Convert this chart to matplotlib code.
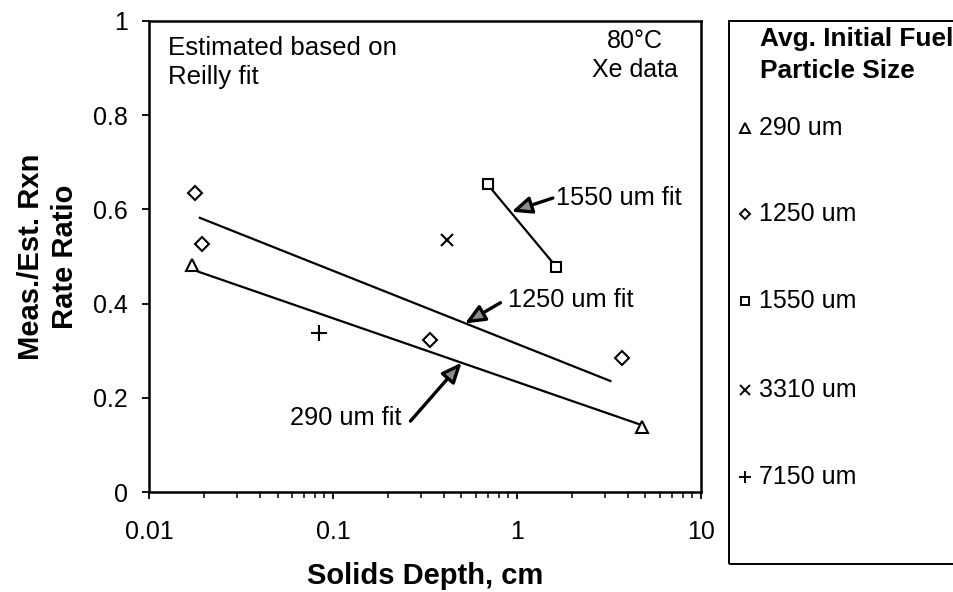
import matplotlib
matplotlib.use('Agg')
import matplotlib.pyplot as plt
from matplotlib.lines import Line2D
from matplotlib.patches import Rectangle
from matplotlib.ticker import FuncFormatter, LogLocator, NullFormatter

plt.rcParams['font.family'] = ['Liberation Sans', 'DejaVu Sans']

# measured points: solids depth (cm) vs meas./est. rate ratio
x_290 = [0.0171, 4.82]
y_290 = [0.482, 0.139]
x_1250 = [0.0178, 0.0194, 0.337, 3.73]
y_1250 = [0.635, 0.527, 0.324, 0.285]
x_1550 = [0.693, 1.64]
y_1550 = [0.653, 0.478]
x_3310 = [0.415]
y_3310 = [0.535]
x_7150 = [0.0839]
y_7150 = [0.337]

# fit lines (end points)
fit290_x = [0.0185, 4.66]
fit290_y = [0.468, 0.144]
fit1250_x = [0.0189, 3.23]
fit1250_y = [0.582, 0.236]
fit1550_x = [0.693, 1.64]
fit1550_y = [0.653, 0.478]

# fit callouts: label, label position, arrow tail, arrow tip
fit_labels = ['1550 um fit', '1250 um fit', '290 um fit']
label_xy = [(1.63, 0.624), (0.894, 0.408), (0.236, 0.157)]
label_ha = ['left', 'left', 'right']
arrow_from = [(1.57, 0.624), (0.815, 0.402), (0.264, 0.151)]
arrow_to = [(0.936, 0.595), (0.522, 0.358), (0.501, 0.275)]

legend_title = ['Avg. Initial Fuel', 'Particle Size']
legend_labels = ['290 um', '1250 um', '1550 um', '3310 um', '7150 um']
x_ticks = [0.01, 0.1, 1, 10]
y_ticks = [0, 0.2, 0.4, 0.6, 0.8, 1]

fig = plt.figure(figsize=(9.54, 5.92), dpi=100)
ax = fig.add_axes([0.1562, 0.1684, 0.5783, 0.7966])

series = [
    (x_290, y_290, '^', 9),
    (x_1250, y_1250, 'D', 6.8),
    (x_1550, y_1550, 's', 7),
    (x_3310, y_3310, 'x', 9),
    (x_7150, y_7150, '+', 11),
]

# fit lines
for fx, fy in [(fit290_x, fit290_y), (fit1250_x, fit1250_y), (fit1550_x, fit1550_y)]:
    ax.plot(fx, fy, color='black', lw=1.6, zorder=2)

for xs, ys, m, ms in series:
    ax.plot(xs, ys, ls='none', marker=m, ms=ms, mfc='white', mec='black',
            mew=1.5, zorder=3)

for lab, lxy, ha, a0, a1 in zip(fit_labels, label_xy, label_ha, arrow_from, arrow_to):
    ax.text(lxy[0], lxy[1], lab, ha=ha, va='center', fontsize=18.3)
    ax.annotate('', xy=a1, xytext=a0,
                arrowprops=dict(arrowstyle='-|>,head_length=0.6,head_width=0.26',
                                mutation_scale=20, fc='#8c8c8c', ec='black',
                                lw=2.4, shrinkA=0, shrinkB=0), zorder=4)

ax.text(0.035, 0.968, 'Estimated based on\nReilly fit', transform=ax.transAxes,
        ha='left', va='top', fontsize=18.6, linespacing=1.25)
ax.text(0.881, 0.982, '80°C\nXe data', transform=ax.transAxes,
        ha='center', va='top', fontsize=18, linespacing=1.25, multialignment='center')

ax.set_xscale('log')
ax.set_xlim(0.01, 10)
ax.set_ylim(0, 1)
ax.set_xticks(x_ticks)
ax.set_yticks(y_ticks)
fmt = FuncFormatter(lambda v, p: '%g' % v)
ax.xaxis.set_major_formatter(fmt)
ax.yaxis.set_major_formatter(fmt)
ax.xaxis.set_minor_locator(LogLocator(base=10, subs=range(2, 10)))
ax.xaxis.set_minor_formatter(NullFormatter())

ax.tick_params(axis='x', which='major', direction='out', length=5, width=1.3,
               labelsize=18, pad=15)
ax.tick_params(axis='x', which='minor', direction='out', length=4, width=1.1)
ax.tick_params(axis='y', which='major', direction='out', length=5, width=1.3,
               labelsize=18, pad=10)
for s in ax.spines.values():
    s.set_linewidth(1.8)

ax.set_xlabel('Solids Depth, cm', fontsize=21, fontweight='bold', labelpad=13)
ax.set_ylabel('Meas./Est. Rxn\nRate Ratio', fontsize=21, fontweight='bold',
              labelpad=10, linespacing=1.3)

# legend panel on the right, running off the edge of the figure
fig.patches.append(Rectangle((729 / 954, 1 - 564 / 592), 0.4, (564 - 21) / 592,
                             transform=fig.transFigure, fill=False,
                             ec='black', lw=1.4))
fig.text(760 / 954, 1 - 39 / 592, legend_title[0], fontsize=18.9,
         fontweight='bold', va='center', ha='left')
fig.text(760 / 954, 1 - 71 / 592, legend_title[1], fontsize=18.9,
         fontweight='bold', va='center', ha='left')
row_y = [128, 214, 301, 390, 477]
for (xs, ys, m, ms), lab, ry in zip(series, legend_labels, row_y):
    fy = 1 - ry / 592
    fig.add_artist(Line2D([745 / 954], [fy], transform=fig.transFigure,
                          ls='none', marker=m, ms=ms * 0.8, mfc='white',
                          mec='black', mew=1.4))
    fig.text(759 / 954, fy, lab, fontsize=18, va='center', ha='left')

fig.savefig('out.png', dpi=100)
